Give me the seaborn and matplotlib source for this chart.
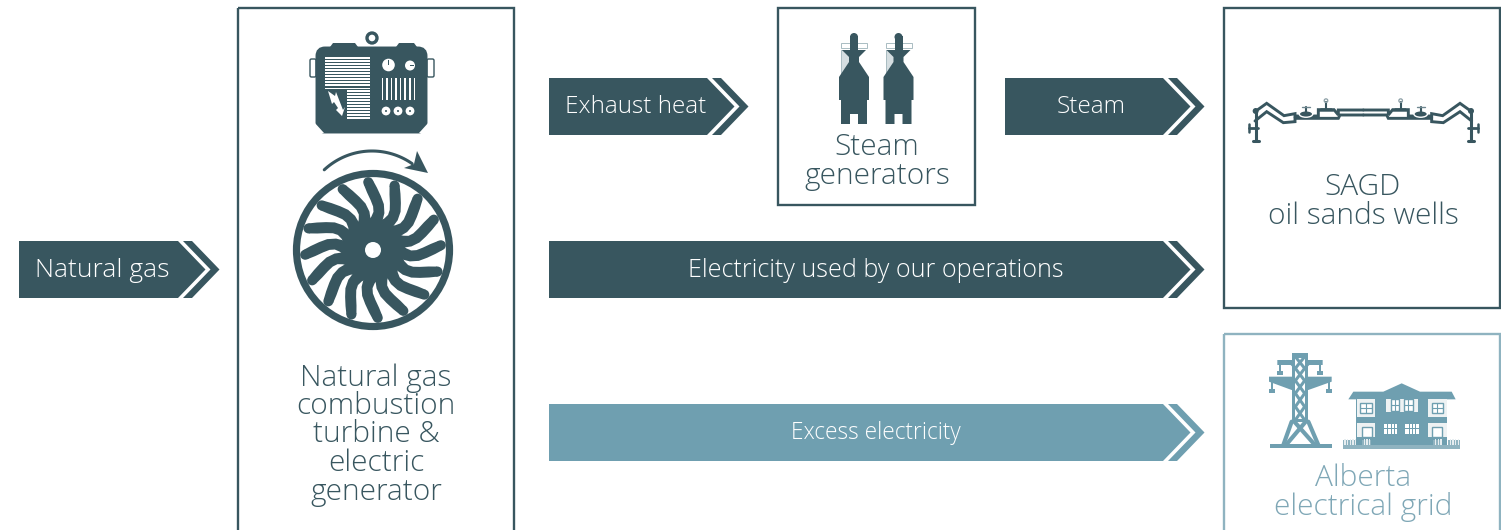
import numpy as np
import pandas as pd
import matplotlib
matplotlib.use("Agg")
import matplotlib.pyplot as plt
from matplotlib.patches import Polygon, Rectangle, Circle, Ellipse, FancyBboxPatch
import seaborn as sns

# ---- content ----
arrow_labels = ["Natural gas", "Exhaust heat", "Steam", "Electricity used by our operations", "Excess electricity"]
box_labels = [
    ["Natural gas", "combustion", "turbine &", "electric", "generator"],
    ["Steam", "generators"],
    ["SAGD", "oil sands wells"],
    ["Alberta", "electrical grid"],
]
DARK = "#38565f"
LIGHT = "#6f9fb0"
PALE = "#8fb3c0"

sns.set_theme(style="white")
plt.rcParams["font.family"] = ["Open Sans", "DejaVu Sans"]

W, H = 1501, 530
fig = plt.figure(figsize=(W / 100, H / 100), dpi=100, facecolor="white")
ax = fig.add_axes([0, 0, 1, 1])
ax.set_xlim(0, W)
ax.set_ylim(H, 0)
ax.axis("off")


def poly(points, color=DARK, z=3, **kw):
    ax.add_patch(Polygon(points, closed=True, facecolor=color, edgecolor="none", zorder=z, **kw))


def rect(x0, y0, x1, y1, color=DARK, z=3):
    ax.add_patch(Rectangle((x0, y0), x1 - x0, y1 - y0, facecolor=color, edgecolor="none", zorder=z))


def circ(x, y, r, color=DARK, z=3):
    ax.add_patch(Circle((x, y), r, facecolor=color, edgecolor="none", zorder=z))


def stroke(xs, ys, color=DARK, lw=2.0, z=3):
    frame = pd.DataFrame({"x": xs, "y": ys})
    sns.lineplot(data=frame, x="x", y="y", sort=False, estimator=None, color=color,
                 linewidth=lw, ax=ax, zorder=z, legend=False, solid_joinstyle="miter")


# ---- frames ----
frames = [(238, 8, 514, 545, DARK), (778, 8, 975, 205, DARK), (1224, 8, 1500, 308, DARK), (1224, 334, 1500, 545, PALE)]
for x0, y0, x1, y1, c in frames:
    ax.add_patch(Rectangle((x0, y0), x1 - x0, y1 - y0, fill=False, edgecolor=c, linewidth=1.7, zorder=2))
ax.set_xlim(0, W)
ax.set_ylim(H, 0)


# ---- arrows ----
def arrow(x0, x1, y0, y1, label, cx, color, size):
    m = (y0 + y1) / 2
    h = (y1 - y0) / 2
    poly([(x0, y0), (x1, y0), (x1 + h - 1, m), (x1, y1), (x0, y1)], color)
    poly([(x1 + 5, y0), (x1 + 14, y0), (x1 + 14 + h - 1, m), (x1 + 14, y1), (x1 + 5, y1),
          (x1 + 5 + h - 1, m)], color)
    ax.text(cx, m + 0.7, label, color="white", fontsize=size, fontweight="light",
            ha="center", va="center", zorder=5)


arrow(19, 178, 241, 298, arrow_labels[0], 102.5, DARK, 19.0)
arrow(549, 707, 78, 135, arrow_labels[1], 636, DARK, 17.5)
arrow(1005, 1163, 78, 135, arrow_labels[2], 1091.5, DARK, 17.5)
arrow(549, 1163, 241, 298, arrow_labels[3], 876, DARK, 18.1)
arrow(549, 1163, 404, 461, arrow_labels[4], 876, LIGHT, 16.3)

# ---- box labels ----
for lines, cx, ys, c, size in [
    (box_labels[0], 376, [378.5, 406.5, 434.5, 463.5, 492.5], DARK, 21.5),
    (box_labels[1], 877, [147.5, 176.5], DARK, 21.5),
    (box_labels[2], 1363, [187.5, 216.5], DARK, 21.5),
    (box_labels[3], 1363, [478.5, 507.5], "#7fa7b6", 21.5),
]:
    for line, y in zip(lines, ys):
        ax.text(cx, y, line, color=c, fontsize=size, fontweight="light", ha="center", va="center", zorder=5)

# ---- turbine ----
cx, cy = 373, 250
ax.add_patch(Circle((cx, cy), 76.5, fill=False, edgecolor=DARK, linewidth=5.2, zorder=3))
circ(cx, cy, 26)
rs = np.array([68, 60, 52, 45, 38, 31, 25, 20])
angs = np.radians(94 + np.array([0, -3, -7, -11, -13, -11, -4, 6]))
wid = np.array([10, 11, 11, 11, 11, 12, 13, 13])
for k in range(16):
    rot = k * 2 * np.pi / 16
    a = angs - rot
    px, py = rs * np.cos(a), rs * np.sin(a)
    dx, dy = np.gradient(px), np.gradient(py)
    n = np.hypot(dx, dy)
    ox, oy = -dy / n * wid / 2, dx / n * wid / 2
    left = np.c_[cx + px + ox, cy - py - oy]
    right = np.c_[cx + px - ox, cy - py + oy]
    poly(np.r_[left, right[::-1]])
    circ(cx + px[0], cy - py[0], wid[0] / 2)
circ(cx, cy, 8, "white", z=4)

# rotation arrow
t = np.linspace(np.radians(133), np.radians(55), 40)
stroke(372 + 70 * np.cos(t), 221 - 70 * np.sin(t), lw=2.2)
poly([(428, 173), (417, 151), (414, 164), (404, 168)])

# ---- generator ----
ax.add_patch(FancyBboxPatch((319, 50), 105, 80, boxstyle="round,pad=0,rounding_size=6",
                            facecolor=DARK, edgecolor=DARK, linewidth=5, zorder=3))
poly([(330, 47), (333, 43), (355, 43), (358, 47)])
poly([(396, 47), (399, 43), (414, 43), (417, 47)])
ax.add_patch(Circle((372, 38), 5, fill=False, edgecolor=DARK, linewidth=2.4, zorder=3))
for x0, x1 in [(310, 316), (427, 434)]:
    ax.add_patch(FancyBboxPatch((x0, 59), x1 - x0, 18, boxstyle="round,pad=0,rounding_size=1.5",
                                fill=False, edgecolor=DARK, linewidth=1, zorder=2))
poly([(314, 122), (324, 133), (314, 133)], "white", 4)
poly([(429, 122), (419, 133), (429, 133)], "white", 4)
for y in np.arange(57, 88, 3.05):
    rect(325, y, 370, y + 1.7, "white", 4)
for y in np.arange(90, 118, 3.05):
    rect(347, y, 370, y + 1.7, "white", 4)
poly([(328, 91), (335, 96), (336, 92), (343, 110), (345, 107), (342, 116), (336, 110), (338, 108),
      (334, 102), (332, 104)], "white", 4)
circ(388.5, 65, 6.3, "white", 4)
circ(410, 65.5, 5, "white", 4)
rect(388, 60, 389.2, 65, DARK, 5)
rect(410, 65, 414, 66, DARK, 5)
for x in np.linspace(381.5, 413.5, 8):
    rect(x, 78, x + 1.6, 100, "white", 4)
for x in [386, 398, 410]:
    circ(x, 111, 4.4, "white", 4)
    circ(x, 111, 1.0, DARK, 5)

# ---- steam generators ----
for c in [854, 898.5]:
    ax.add_patch(Rectangle((c - 13, 43), 26, 5, fill=False, edgecolor="#a9bcc2", linewidth=0.7, zorder=2))
    ax.add_patch(Rectangle((c - 13, 50), 8, 26, fill=False, edgecolor="#a9bcc2", linewidth=0.7, zorder=2))
    rect(c - 12.5, 50, c - 5, 76, "#d5dee1", 1)
    poly([(c - 12, 50), (c + 12, 50), (c + 5, 57), (c + 5, 62), (c + 15, 77), (c + 15, 100), (c + 13, 100),
          (c + 13, 124), (c + 4, 124), (c + 4, 114), (c - 4, 114), (c - 4, 124), (c - 13, 124),
          (c - 13, 100), (c - 15, 100), (c - 15, 77), (c - 5, 62), (c - 5, 57)])
    rect(c - 4, 36, c + 4, 52)
    circ(c, 37, 4)

# ---- SAGD pipeline ----
px_x = lambda zx: 1230 + np.asarray(zx, float) / 3
px_y = lambda zy: 85 + np.asarray(zy, float) / 3
upper = ([75, 110, 162, 195, 195, 265, 265, 312, 325, 325, 400],
         [80, 55, 92, 86, 93, 93, 74, 74, 90, 75, 75])
lower = ([75, 110, 160, 195, 195, 325, 330, 400],
         [108, 80, 113, 110, 100, 100, 90, 90])
for xs, ys in [upper, lower]:
    xs = np.asarray(xs, float)
    stroke(px_x(xs), px_y(ys), lw=2.1)
    stroke(px_x(800 - xs), px_y(ys), lw=2.1)
for sign in [0, 1]:
    f = (lambda z: px_x(800 - np.asarray(z, float))) if sign else px_x
    stroke(f([77, 77]), px_y([78, 168]), lw=2.2)
    stroke(f([68, 87]), px_y([168, 168]), lw=2.2)
    stroke(f([57, 85]), px_y([128, 128]), lw=2.0)
    stroke(f([57, 57]), px_y([116, 140]), lw=1.8)
    circ(float(f(77)), float(px_y(78)), 3)
    ax.add_patch(Ellipse((float(f(228)), float(px_y(87))), 13.5, 6.5, facecolor=DARK, zorder=3))
    stroke(f([228, 228]), px_y([67, 85]), lw=1.5)
    stroke(f([215, 240]), px_y([65, 65]), lw=1.0, color="#6f8790")
    poly([(float(f(265)), float(px_y(80))), (float(f(272)), float(px_y(70))), (float(f(305)), float(px_y(70))),
          (float(f(312)), float(px_y(80)))])
    stroke(f([288, 288]), px_y([52, 72]), lw=1.5)
    ax.add_patch(Circle((float(f(288)), float(px_y(47))), 1.8, fill=False, edgecolor="#8b9ea5", linewidth=0.9, zorder=3))

# ---- pylon (coordinates relative to 1250,340 at 3x) ----
X = lambda z: 1250 + z / 3
Y = lambda z: 340 + z / 3
rect(X(125), Y(40), X(175), Y(245), LIGHT)
rect(X(136), Y(50), X(164), Y(240), "white", 3.5)
poly([(X(82), Y(60)), (X(218), Y(60)), (X(218), Y(75)), (X(178), Y(75)), (X(164), Y(90)), (X(136), Y(90)), (X(122), Y(75)), (X(82), Y(75))], LIGHT)
poly([(X(57), Y(110)), (X(245), Y(110)), (X(245), Y(125)), (X(175), Y(150)), (X(125), Y(150)), (X(57), Y(125))], LIGHT, 3)
for z0, z1 in [(50, 85), (85, 122), (122, 160), (160, 200), (200, 240)]:
    stroke([X(136), X(164)], [Y(z0), Y(z1)], color=LIGHT, lw=2.2, z=4)
    stroke([X(164), X(136)], [Y(z0), Y(z1)], color=LIGHT, lw=2.2, z=4)
for z0 in [52, 240]:
    rect(X(136), Y(z0 - 3), X(164), Y(z0 + 3), LIGHT, 4)
for zx, z0, z1 in [(90, 75, 106), (210, 75, 106), (66, 125, 158), (237, 125, 158)]:
    rect(X(zx - 2), Y(z0), X(zx + 2), Y(z1), LIGHT)
    rect(X(zx - 9), Y(z1 - 12), X(zx + 9), Y(z1), LIGHT)
for x0, x1 in [(125, 100), (175, 205), (133, 195), (167, 108)]:
    stroke([X(x0), X(x1)], [Y(245), Y(315)], color=LIGHT, lw=3)
rect(X(60), Y(312), X(245), Y(323), LIGHT)

# ---- house ----
poly([(X(295), Y(178)), (X(310), Y(155)), (X(400), Y(155)), (X(455), Y(130)), (X(510), Y(155)), (X(605), Y(155)), (X(617), Y(178))], LIGHT)
rect(X(318), Y(178), X(592), Y(320), LIGHT)
rect(X(320), Y(178), X(375), Y(232), "#eef2f3", 4)
rect(X(535), Y(178), X(590), Y(232), "#eef2f3", 4)
rect(X(408), Y(176), X(503), Y(215), "#eef2f3", 4)
rect(X(320), Y(250), X(375), Y(290), "#eef2f3", 4)
rect(X(535), Y(250), X(590), Y(290), "#eef2f3", 4)
for x0, x1, y0, y1 in [(330, 365, 190, 218), (545, 578, 190, 218), (422, 448, 178, 212), (462, 488, 178, 212),
                       (335, 365, 260, 290), (547, 577, 260, 290)]:
    ax.add_patch(Rectangle((X(x0), Y(y0)), (x1 - x0) / 3, (y1 - y0) / 3, facecolor="white", edgecolor=LIGHT, linewidth=1, zorder=5))
    if y0 < 250:
        stroke([X((x0 + x1) / 2)] * 2, [Y(y0), Y(y1)], color=LIGHT, lw=0.8, z=6)
        stroke([X(x0), X(x1)], [Y((y0 + y1) / 2)] * 2, color=LIGHT, lw=0.8, z=6)
for x0, x1 in [(402, 444), (466, 506)]:
    rect(X(x0), Y(252), X(x1), Y(282), "white", 4)
    for zx in np.arange(x0 + 10, x1, 10):
        rect(X(zx), Y(252), X(zx + 2.5), Y(282), LIGHT, 5)
    rect(X(x0), Y(265), X(x1), Y(268), LIGHT, 5)
# fence
for x0, x1 in [(278, 316), (336, 362), (550, 576), (594, 630)]:
    rect(X(x0), Y(300), X(x1), Y(322), PALE, 4)
    for zx in np.arange(x0 + 5, x1, 8):
        rect(X(zx), Y(297), X(zx + 4), Y(316), "#e6edf0", 5)
rect(X(278), Y(316), X(630), Y(326), PALE, 3)

ax.set_xlim(0, W)
ax.set_ylim(H, 0)
ax.axis("off")
fig.savefig("out.png", dpi=100, facecolor="white")
